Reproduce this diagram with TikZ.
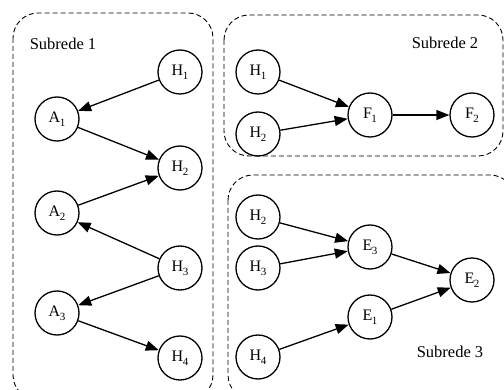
\documentclass[tikz,border=0pt]{standalone}
\usepackage{fontspec}
\setmainfont{Liberation Serif}
\usetikzlibrary{arrows.meta}
\newcommand\lab[2]{#1\kern-0.5pt\raisebox{-4pt}{\fontsize{11}{11}\selectfont #2}}
\begin{document}
\begin{tikzpicture}[x=1pt,y=-1pt,
  nd/.style={circle,draw,line width=1.3pt,minimum size=44pt,inner sep=0pt,font=\fontsize{16}{16}\selectfont},
  grp/.style={draw,dashed,dash pattern=on 5pt off 3pt,line width=0.9pt,rounded corners=25pt},
  lbl/.style={font=\fontsize{16.5}{16.5}\selectfont,inner sep=0pt},
  ar/.style={line width=1.3pt,-{Triangle[length=13pt,width=10pt]}}]
\useasboundingbox (0,0) rectangle (504,390);
\begin{scope}
\clip (0,0) rectangle (504,390);
\draw[grp] (13,13) rectangle (213,400);
\draw[grp] (224,15) rectangle (503,156);
\draw[grp] (228,175) rectangle (515,400);
\end{scope}
\node[lbl] (s1) at (63,44) {Subrede 1};
\node[lbl] (s2) at (445,43) {Subrede 2};
\node[lbl] (s3) at (450,352) {Subrede 3};
% Subrede 1
\node[nd] (h1) at (180,72) {\lab{H}{1}};
\node[nd] (a1) at (57,119) {\lab{A}{1}};
\node[nd] (h2) at (180,168) {\lab{H}{2}};
\node[nd] (a2) at (57,213) {\lab{A}{2}};
\node[nd] (h3) at (180,268) {\lab{H}{3}};
\node[nd] (a3) at (57,313) {\lab{A}{3}};
\node[nd] (h4) at (180,358) {\lab{H}{4}};
\draw[ar] (h1) -- (a1);
\draw[ar] (a1) -- (h2);
\draw[ar] (a2) -- (h2);
\draw[ar] (h3) -- (a2);
\draw[ar] (h3) -- (a3);
\draw[ar] (a3) -- (h4);
% Subrede 2
\node[nd] (b1) at (258,72) {\lab{H}{1}};
\node[nd] (b2) at (258,134) {\lab{H}{2}};
\node[nd] (f1) at (370,115) {\lab{F}{1}};
\node[nd] (f2) at (472,115) {\lab{F}{2}};
\draw[ar] (b1) -- (f1);
\draw[ar] (b2) -- (f1);
\draw[ar] (f1) -- (f2);
% Subrede 3
\node[nd] (c2) at (258,217) {\lab{H}{2}};
\node[nd] (c3) at (258,268) {\lab{H}{3}};
\node[nd] (c4) at (258,357) {\lab{H}{4}};
\node[nd] (e3) at (370,247) {\lab{E}{3}};
\node[nd] (e1) at (370,317) {\lab{E}{1}};
\node[nd] (e2) at (472,280) {\lab{E}{2}};
\draw[ar] (c2) -- (e3);
\draw[ar] (c3) -- (e3);
\draw[ar] (c4) -- (e1);
\draw[ar] (e3) -- (e2);
\draw[ar] (e1) -- (e2);
\end{tikzpicture}
\end{document}
